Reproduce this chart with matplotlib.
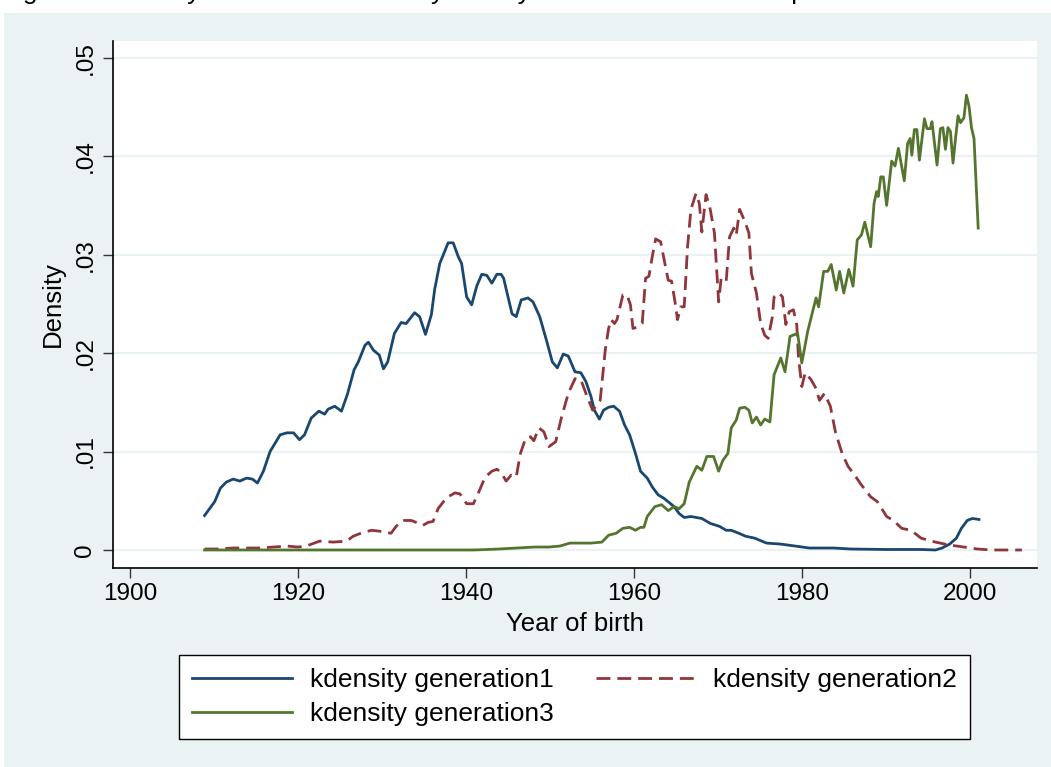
import matplotlib
matplotlib.use("Agg")
import matplotlib.pyplot as plt
from matplotlib.patches import Rectangle

plt.rcParams["font.family"] = ["Liberation Sans", "DejaVu Sans"]

# kernel density of birth year
gen1_year = [1908.9, 1910.1, 1910.8, 1911.5, 1912.3, 1913.1, 1913.9, 1914.6, 1915.2, 1915.9,
             1916.7, 1917.9, 1918.7, 1919.5, 1920.2, 1920.8, 1921.6, 1922.5, 1923.2, 1923.6,
             1924.4, 1925.2, 1925.9, 1926.7, 1927.2, 1928.0, 1928.4, 1929.0, 1929.7, 1930.2,
             1930.7, 1931.5, 1932.3, 1932.9, 1933.9, 1934.5, 1935.2, 1935.9, 1936.3, 1936.9,
             1937.9, 1938.5, 1939.1, 1939.5, 1940.1, 1940.7, 1941.3, 1941.9, 1942.5, 1943.1,
             1943.7, 1944.2, 1944.5, 1945.0, 1945.5, 1946.0, 1946.6, 1947.4, 1948.0, 1948.8,
             1949.1, 1949.7, 1950.3, 1950.9, 1951.6, 1952.2, 1953.0, 1953.7, 1954.3, 1954.9,
             1955.3, 1955.9, 1956.4, 1957.0, 1957.6, 1958.3, 1958.9, 1959.5, 1960.2, 1960.8,
             1961.6, 1962.2, 1962.9, 1963.5, 1964.1, 1964.8, 1965.4, 1966.0, 1966.8, 1968.1,
             1969.1, 1970.2, 1971.0, 1971.6, 1972.5, 1973.3, 1974.4, 1975.8, 1977.5, 1979.2,
             1980.9, 1983.8, 1985.8, 1990.0, 1994.2, 1995.9, 1996.7, 1997.6, 1998.4, 1999.0,
             1999.7, 2000.3, 2001.1]
gen1_dens = [.0035, .0049, .0063, .0069, .0072, .0070, .0073, .0072, .0068, .0080,
             .0100, .0117, .0119, .0119, .0112, .0117, .0134, .0141, .0138, .0143,
             .0146, .0141, .0158, .0183, .0191, .0208, .0211, .0203, .0198, .0184,
             .0191, .0220, .0231, .0230, .0241, .0237, .0219, .0239, .0265, .0291,
             .0312, .0312, .0298, .0291, .0257, .0249, .0268, .0280, .0279, .0271,
             .0280, .0280, .0276, .0258, .0240, .0237, .0254, .0256, .0252, .0237,
             .0228, .0210, .0191, .0185, .0199, .0197, .0181, .0180, .0171, .0156,
             .0142, .0133, .0142, .0145, .0146, .0141, .0127, .0117, .0098, .0080,
             .0073, .0064, .0056, .0053, .0049, .0044, .0037, .0033, .0034, .0032,
             .0027, .0024, .0020, .0020, .0017, .0014, .0012, .0007, .0006, .0004,
             .0002, .0002, .0001, .00005, .00005, .0, .0002, .0006, .0012, .0022,
             .0030, .0032, .0031]

gen2_year = [1908.9, 1910.4, 1912.3, 1913.9, 1915.5, 1917.1, 1918.7, 1920.0, 1921.0, 1922.6,
             1924.2, 1925.8, 1926.6, 1927.8, 1928.8, 1929.8, 1931.1, 1931.7, 1932.5, 1933.5,
             1934.1, 1934.9, 1935.5, 1936.1, 1936.7, 1937.7, 1938.7, 1939.3, 1940.1, 1940.9,
             1941.5, 1942.3, 1943.1, 1943.7, 1944.2, 1944.8, 1945.4, 1946.0, 1946.5, 1947.1,
             1947.7, 1948.1, 1948.7, 1949.3, 1949.9, 1950.7, 1951.4, 1952.2, 1953.0, 1953.7,
             1954.3, 1955.1, 1956.0, 1956.6, 1957.0, 1957.3, 1957.7, 1958.0, 1958.7, 1959.2,
             1959.6, 1959.9, 1960.6, 1961.0, 1961.4, 1961.8, 1962.2, 1962.6, 1963.2, 1963.7,
             1964.1, 1964.5, 1965.0, 1965.2, 1965.6, 1966.0, 1966.4, 1966.8, 1967.4, 1967.8,
             1968.1, 1968.6, 1969.1, 1969.6, 1970.1, 1970.4, 1971.0, 1971.4, 1971.9, 1972.2,
             1972.6, 1973.2, 1973.7, 1974.0, 1974.6, 1975.1, 1975.6, 1976.0, 1976.5, 1976.7,
             1977.3, 1977.7, 1978.1, 1978.5, 1979.0, 1979.4, 1979.6, 1980.0, 1980.4, 1981.1,
             1981.7, 1982.1, 1982.7, 1983.4, 1984.0, 1984.8, 1985.5, 1986.3, 1987.1, 1988.2,
             1989.0, 1990.1, 1990.9, 1991.9, 1993.0, 1994.2, 1995.9, 1997.6, 1999.3, 2000.9,
             2002.6, 2006.2]
gen2_dens = [.0001, .0001, .0002, .0002, .0002, .0003, .0004, .0003, .0004, .0009,
             .0008, .0009, .0014, .0018, .0020, .0019, .0017, .0024, .0030, .0030,
             .0028, .0025, .0028, .0029, .0042, .0053, .0058, .0057, .0047, .0047,
             .0058, .0074, .0080, .0082, .0079, .0070, .0076, .0074, .0098, .0113,
             .0115, .0111, .0124, .0120, .0105, .0110, .0135, .0159, .0174, .0173,
             .0159, .0142, .0152, .0203, .0225, .0234, .0230, .0234, .0259, .0259,
             .0249, .0225, .0227, .0230, .0276, .0278, .0298, .0316, .0313, .0291,
             .0274, .0273, .0247, .0234, .0247, .0247, .0308, .0346, .0362, .0352,
             .0323, .0361, .0346, .0322, .0252, .0276, .0273, .0318, .0327, .0320,
             .0346, .0334, .0322, .0281, .0261, .0230, .0218, .0215, .0237, .0257,
             .0261, .0257, .0229, .0242, .0244, .0229, .0196, .0166, .0180, .0173,
             .0164, .0152, .0159, .0146, .0120, .0098, .0085, .0076, .0066, .0054,
             .0049, .0034, .0030, .0022, .0020, .0012, .0008, .0005, .0003, .0001,
             .0, .0]

gen3_year = [1908.9, 1941.0, 1944.0, 1946.1, 1948.2, 1949.9, 1951.2, 1952.4, 1953.7, 1954.9,
             1956.2, 1957.0, 1957.9, 1958.7, 1959.5, 1960.2, 1960.8, 1961.2, 1961.6, 1962.5,
             1963.3, 1964.1, 1964.8, 1965.4, 1966.0, 1966.6, 1967.5, 1968.1, 1968.7, 1969.5,
             1970.1, 1970.6, 1971.2, 1971.6, 1972.2, 1972.6, 1973.2, 1973.7, 1974.1, 1974.6,
             1975.1, 1975.6, 1976.2, 1976.7, 1977.5, 1978.0, 1978.6, 1979.5, 1980.0, 1980.7,
             1981.4, 1981.7, 1982.0, 1982.6, 1983.1, 1983.5, 1984.1, 1984.5, 1985.0, 1985.6,
             1986.1, 1986.6, 1987.1, 1987.5, 1988.2, 1988.6, 1988.9, 1989.1, 1989.4, 1989.7,
             1990.1, 1990.7, 1991.1, 1991.5, 1992.2, 1992.6, 1992.9, 1993.1, 1993.4, 1993.7,
             1994.0, 1994.6, 1994.9, 1995.3, 1995.5, 1996.1, 1996.5, 1996.8, 1997.1, 1997.4,
             1997.7, 1998.0, 1998.3, 1998.6, 1998.9, 1999.3, 1999.6, 1999.9, 2000.2, 2000.5,
             2001.0]
gen3_dens = [.0, .0, .0001, .0002, .0003, .0003, .0004, .0007, .0007, .0007,
             .0008, .0015, .0017, .0022, .0023, .0020, .0023, .0023, .0034, .0044,
             .0046, .0040, .0044, .0042, .0047, .0069, .0085, .0081, .0095, .0095,
             .0080, .0091, .0098, .0124, .0132, .0144, .0145, .0142, .0129, .0135,
             .0127, .0133, .0130, .0178, .0195, .0181, .0217, .0220, .0190, .0222,
             .0246, .0256, .0247, .0283, .0283, .0290, .0264, .0283, .0261, .0285,
             .0268, .0315, .0320, .0333, .0308, .0352, .0364, .0359, .0379, .0379,
             .0350, .0395, .0390, .0408, .0375, .0413, .0418, .0401, .0427, .0427,
             .0396, .0438, .0428, .0428, .0435, .0391, .0428, .0429, .0407, .0429,
             .0425, .0393, .0418, .0441, .0434, .0439, .0462, .0451, .0429, .0418,
             .0327]

x_ticks = [1900, 1920, 1940, 1960, 1980, 2000]
y_ticks = [0, .01, .02, .03, .04, .05]
y_labels = ["0", ".01", ".02", ".03", ".04", ".05"]

bg = "#EAF2F3"
fig = plt.figure(figsize=(10.51, 7.67), dpi=100, facecolor="white")
fig.patches.append(Rectangle((4 / 1051, 0), 1, 1 - 13 / 767, transform=fig.transFigure,
                             facecolor=bg, edgecolor="none", zorder=-10))

# caption sits mostly above the top edge, only its descenders show (as in the source)
fig.text(1 / 1051, 1 + 1 / 767,
         "Figure 1: Density distribution of birth years by individuals in the sample",
         fontsize=19, ha="left", va="baseline", color="black")

ax = fig.add_axes([113 / 1051, 1 - 568 / 767, 924 / 1051, 527 / 767])
ax.set_facecolor("white")

for y in y_ticks:
    ax.axhline(y, color=bg, lw=1.6, zorder=0)

l1, = ax.plot(gen1_year, gen1_dens, color="#1A476F", lw=2.0, solid_joinstyle="round",
              label="kdensity generation1", zorder=3)
l2, = ax.plot(gen2_year, gen2_dens, color="#90353B", lw=2.0, dashes=(5, 2.5),
              label="kdensity generation2", zorder=3)
l3, = ax.plot(gen3_year, gen3_dens, color="#55752F", lw=2.0, solid_joinstyle="round",
              label="kdensity generation3", zorder=3)

ax.set_xlim(1898, 2008)
ax.set_ylim(-0.00183, 0.0517)

ax.set_xticks(x_ticks)
ax.set_yticks(y_ticks)
ax.set_yticklabels(y_labels, rotation=90, va="center")
ax.tick_params(axis="both", direction="out", length=7, width=1.0, color="#333333",
               labelsize=17.5)
ax.tick_params(axis="x", pad=4)
ax.tick_params(axis="y", pad=5)

for side in ["top", "right"]:
    ax.spines[side].set_visible(False)
for side in ["left", "bottom"]:
    ax.spines[side].set_linewidth(1.2)
    ax.spines[side].set_color("black")

ax.set_xlabel("Year of birth", fontsize=18.5, va="center")
ax.xaxis.set_label_coords(0.5, (568 - 624) / 527)
ax.set_ylabel("Density", fontsize=18.5, va="center")
ax.yaxis.set_label_coords((53 - 113) / 924, 0.5)

leg = fig.legend([l1, l3, l2],
                 ["kdensity generation1", "kdensity generation3", "kdensity generation2"],
                 ncol=2, loc="center", bbox_to_anchor=(574.5 / 1051, 1 - 697 / 767),
                 fontsize=19, frameon=True, fancybox=False, framealpha=1,
                 edgecolor="black", facecolor="white", handlelength=3.8,
                 handletextpad=0.65, columnspacing=1.6, labelspacing=0.38,
                 borderpad=0.5, borderaxespad=0)
leg.get_frame().set_linewidth(1.0)

fig.savefig("out.png", dpi=100, facecolor=fig.get_facecolor())
